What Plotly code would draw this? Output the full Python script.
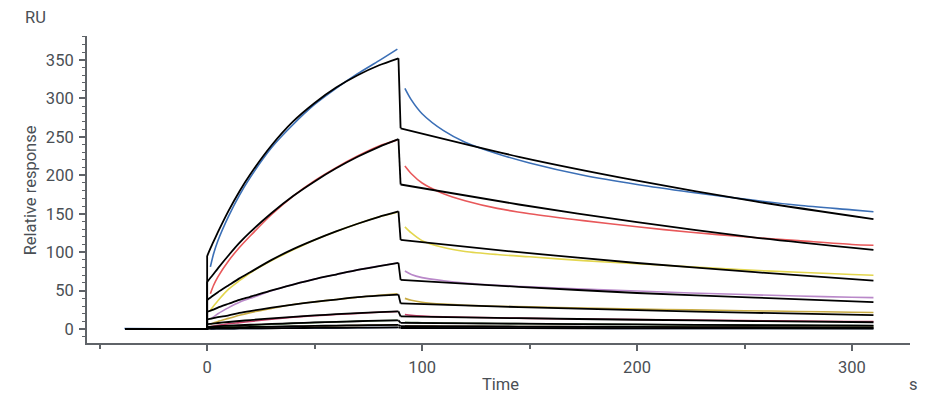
import plotly.graph_objects as go

# sampling times (s)
BASE_T = [-38.5, -0.5]
ASSOC_T = [1.5, 3, 5, 10, 15, 20, 30, 40, 50, 60, 70, 80, 88.5]
DISS_T = [92, 95, 100, 110, 120, 135, 150, 175, 200, 225, 250, 275, 300, 310]
FIT_T = [-38, 0, 0, 2.5, 5, 10, 15, 20, 30, 40, 50, 60, 70, 80, 89, 90, 145, 200, 255, 310]

# measured curves (RU), highest concentration first
blue_base = [0.8, 0.2]
blue_assoc = [81, 98, 115, 147, 174, 197, 236, 266, 292, 313, 332, 349, 364]
blue_diss = [313, 298, 280, 258, 243, 228, 216, 200, 188, 178, 169, 161, 155, 152.5]

red_assoc = [46, 57, 68, 89, 106, 121, 149, 173, 193, 210, 225, 238, 246]
red_diss = [212, 202, 190, 176, 167, 157, 150, 141, 133, 126, 120, 115, 110, 109]

yellow_assoc = [24.7, 30, 37, 52, 63, 73, 89, 103, 116, 127, 137, 146, 152]
yellow_diss = [133, 125, 115, 106, 101, 97, 94, 89, 85, 81, 77, 74, 71, 70]

purple_assoc = [13, 16, 20, 28, 35, 40, 50, 58, 65, 71, 77, 82, 86]
purple_diss = [75.5, 71, 67, 63, 60, 57, 55, 52, 49.5, 47, 45, 43, 41.5, 41]

olive_assoc = [6.5, 8, 10, 14, 18, 21.5, 27, 32, 35.5, 38.5, 41.5, 44, 46]
olive_diss = [40, 37.5, 35, 32.5, 31, 29.8, 29, 27.5, 26, 25, 24, 23, 22, 21.7]

crimson_assoc = [3, 4, 5, 7, 8.5, 10, 13, 15.5, 17.5, 19, 20.5, 22, 23]
crimson_diss = [19, 18, 17, 16, 15.5, 14.8, 14, 13.2, 12.5, 11.8, 11.2, 10.6, 10, 9.8]

green_assoc = [1.5, 2, 2.5, 3.5, 4.2, 5, 6.3, 7.5, 8.5, 9.5, 10.3, 11, 11.5]
green_diss = [9, 8.7, 8.4, 8, 7.7, 7.3, 7, 6.5, 6, 5.6, 5.2, 4.9, 4.6, 4.5]

brown_assoc = [0.8, 1, 1.2, 1.6, 2, 2.3, 2.9, 3.5, 4, 4.5, 4.9, 5.3, 5.5]
brown_diss = [4.2, 4.1, 4, 3.8, 3.7, 3.5, 3.4, 3.2, 3, 2.8, 2.6, 2.5, 2.4, 2.3]

navy_assoc = [0.3, 0.4, 0.5, 0.6, 0.8, 0.9, 1.1, 1.3, 1.5, 1.7, 1.9, 2.1, 2.2]
navy_diss = [1.5, 1.5, 1.4, 1.4, 1.3, 1.2, 1.2, 1.1, 1, 1, 0.9, 0.9, 0.8, 0.8]

# fitted curves (RU) on FIT_T
blue_fit = [0, 0, 95, 111, 126, 154, 179, 201, 239, 270, 294, 314, 330, 343, 352, 261, 224, 193, 166, 143]
red_fit = [0, 0, 61.5, 70, 79, 96, 112, 126, 151, 173, 192, 209, 224, 237, 247, 188, 162, 139, 119, 103]
yellow_fit = [0, 0, 37.7, 43, 48, 57, 66, 74, 90, 104, 116, 127, 137, 146, 153, 116, 100, 86, 74, 63]
purple_fit = [0, 0, 22.6, 25, 28, 33, 38, 42, 50.5, 58, 65, 71, 77, 82, 86, 64, 55, 47, 41, 35]
olive_fit = [0, 0, 12.6, 14, 15.5, 18, 21, 23.5, 28, 32, 35.5, 38.5, 41.5, 43.5, 45, 33.4, 28.7, 24.7, 21.2, 18.2]
crimson_fit = [0, 0, 6.5, 7.2, 8, 9.3, 10.6, 11.8, 14, 16, 17.8, 19.4, 20.8, 22, 23, 16.5, 14.2, 12.2, 10.5, 9.0]
green_fit = [0, 0, 3, 3.4, 3.8, 4.5, 5.1, 5.7, 6.8, 7.8, 8.7, 9.5, 10.3, 11, 11.5, 8.2, 7.1, 6.1, 5.2, 4.5]
brown_fit = [0, 0, 1.5, 1.7, 1.9, 2.2, 2.5, 2.8, 3.3, 3.8, 4.2, 4.6, 5, 5.3, 5.5, 3.9, 3.4, 2.9, 2.5, 2.1]
navy_fit = [0, 0, 0.5, 0.6, 0.7, 0.8, 0.9, 1.0, 1.2, 1.4, 1.6, 1.8, 1.9, 2.1, 2.2, 1.5, 1.3, 1.1, 0.9, 0.8]

SERIES = [
    ("#3b6fb6", blue_assoc, blue_diss, blue_fit),
    ("#e8585a", red_assoc, red_diss, red_fit),
    ("#e3d64e", yellow_assoc, yellow_diss, yellow_fit),
    ("#b988c9", purple_assoc, purple_diss, purple_fit),
    ("#c9ac45", olive_assoc, olive_diss, olive_fit),
    ("#c8406a", crimson_assoc, crimson_diss, crimson_fit),
    ("#4d7a46", green_assoc, green_diss, green_fit),
    ("#8a6a3c", brown_assoc, brown_diss, brown_fit),
    ("#33467d", navy_assoc, navy_diss, navy_fit),
]

TEXT = "#4a4f55"
AXIS = "#5f6368"
FONT = "Roboto"


def add_label(fig: go.Figure, text: str, x: float, y: float, angle: float = 0) -> None:
    fig.add_annotation(
        text=text, x=x, y=y, xref="paper", yref="paper",
        xanchor="center", yanchor="middle", showarrow=False, textangle=angle,
        font={"size": 16.5, "color": TEXT, "family": FONT},
    )


def main() -> None:
    fig = go.Figure()

    # measured responses underneath
    fig.add_scatter(x=BASE_T, y=blue_base, mode="lines", line={"color": "#3b6fb6", "width": 1.6},
                    showlegend=False, hoverinfo="skip")
    for color, assoc, diss, _ in SERIES:
        fig.add_scatter(
            x=ASSOC_T + [None] + DISS_T,
            y=assoc + [None] + diss,
            mode="lines",
            line={"color": color, "width": 1.6, "shape": "spline", "smoothing": 0.8},
            connectgaps=False,
            showlegend=False,
        )

    # model fits on top: smooth phases, straight baseline and injection jumps
    for _, _, _, fit in SERIES:
        fig.add_scatter(
            x=FIT_T[2:15] + [None] + FIT_T[15:],
            y=fit[2:15] + [None] + fit[15:],
            mode="lines",
            line={"color": "black", "width": 1.8, "shape": "spline", "smoothing": 0.6},
            connectgaps=False,
            showlegend=False,
        )
        fig.add_scatter(
            x=FIT_T[0:3] + [None] + FIT_T[14:16],
            y=fit[0:3] + [None] + fit[14:16],
            mode="lines",
            line={"color": "black", "width": 1.8},
            connectgaps=False,
            showlegend=False,
        )

    axis_common = dict(
        ticks="outside",
        ticklen=6,
        tickwidth=1.5,
        tickcolor=AXIS,
        showline=True,
        linecolor=AXIS,
        linewidth=2,
        showgrid=False,
        zeroline=False,
        tickfont={"size": 16.5, "color": TEXT, "family": FONT},
        ticklabelstandoff=2,
        automargin=False,
    )
    fig.update_xaxes(
        range=[-55.9, 327],
        dtick=100,
        tick0=0,
        minor={"dtick": 50, "tick0": 0, "ticks": "outside", "ticklen": 4, "tickcolor": AXIS, "tickwidth": 1.5},
        **axis_common,
    )
    fig.update_yaxes(
        range=[-18, 381],
        dtick=50,
        tick0=0,
        minor={"dtick": 10, "tick0": 0, "ticks": "outside", "ticklen": 3, "tickcolor": AXIS, "tickwidth": 1.2},
        **axis_common,
    )

    add_label(fig, "RU", -0.062, 1.059)
    add_label(fig, "Relative response", -0.069, 0.498, angle=-90)
    add_label(fig, "Time", 0.502, -0.134)
    add_label(fig, "s", 1.004, -0.134)

    # page body adds an 8 px offset, so the figure is sized to the visible area
    fig.update_layout(
        width=934,
        height=401,
        margin={"l": 79, "r": 32, "t": 28, "b": 66},
        plot_bgcolor="white",
        paper_bgcolor="white",
        font={"family": FONT},
    )
    fig.write_html("out.html")


if __name__ == "__main__":
    main()
